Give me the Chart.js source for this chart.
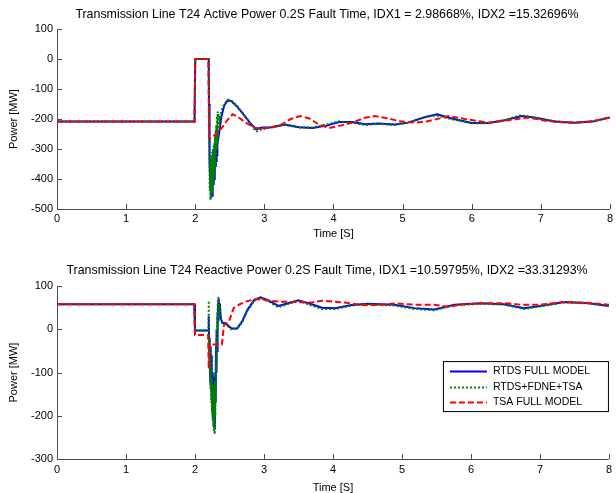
<!DOCTYPE html>
<html>
<head>
<meta charset="utf-8">
<script src="https://cdn.jsdelivr.net/npm/chart.js@4.4.1/dist/chart.umd.min.js"></script>
<style>
  html, body { margin: 0; background: #fff; overflow: hidden; }
  .plot { position: absolute; left: 0; width: 616px; }
  canvas { display: block; }
</style>
</head>
<body>
<div class="plot" style="top:0"><canvas id="activeChart" width="616" height="246"></canvas></div>
<div class="plot" style="top:250px"><canvas id="reactiveChart" width="616" height="245"></canvas></div>
<script>
// axis ticks
const timeTicks = [0, 1, 2, 3, 4, 5, 6, 7, 8];
const activeTicks = [100, 0, -100, -200, -300, -400, -500];
const reactiveTicks = [100, 0, -100, -200, -300];
const seriesNames = ['RTDS FULL MODEL', 'RTDS+FDNE+TSA', 'TSA FULL MODEL'];

// active power, RTDS full model
const activeRtdsT = [0, 1.99, 2.0, 2.195,
  2.2, 2.205, 2.21, 2.215, 2.22, 2.225, 2.23, 2.235, 2.24, 2.245, 2.25, 2.255, 2.26,
  2.265, 2.27, 2.275, 2.28, 2.285, 2.29, 2.295, 2.3, 2.305, 2.31, 2.315, 2.32,
  2.33, 2.35, 2.38, 2.42, 2.47, 2.52, 2.6, 2.7, 2.8, 2.88, 2.97, 3.1, 3.3, 3.5, 3.7, 3.9,
  4.08, 4.27, 4.46, 4.65, 4.89, 5.08, 5.33, 5.5, 5.71, 6.0, 6.24, 6.48, 6.72, 6.9, 7.2, 7.49, 7.77, 8.0];
const activeRtdsV = [-208, -208, 0, 0,
  -150, -300, -340, -400, -330, -440, -350, -460, -340, -455, -330, -440, -320,
  -420, -310, -400, -300, -380, -290, -360, -280, -340, -270, -320, -260,
  -270, -240, -190, -155, -138, -140, -157, -185, -215, -234, -228, -227, -218, -227, -230, -222,
  -210, -210, -217, -215, -218, -212, -193, -184, -198, -213, -213, -204, -190, -195, -208, -212, -207, -195];

// active power, RTDS+FDNE+TSA
const activeFdneT = [0, 1.99, 2.0, 2.195,
  2.2, 2.205, 2.21, 2.215, 2.22, 2.225, 2.23, 2.235, 2.24, 2.245, 2.25, 2.255, 2.26, 2.265, 2.27,
  2.275, 2.28, 2.285, 2.29, 2.295, 2.3, 2.305, 2.31, 2.315, 2.32, 2.325, 2.33, 2.335, 2.34,
  2.35, 2.36, 2.375, 2.39, 2.42, 2.47, 2.52, 2.6, 2.7, 2.8, 2.88, 2.95, 3.1, 3.3, 3.5, 3.7, 3.9,
  4.08, 4.27, 4.46, 4.65, 4.89, 5.08, 5.3, 5.48, 5.7, 6.0, 6.24, 6.48, 6.7, 6.9, 7.2, 7.49, 7.77, 8.0];
const activeFdneV = [-208, -208, 0, 0,
  -200, -330, -440, -340, -470, -330, -465, -320, -450, -310, -440, -300, -420, -290, -400,
  -280, -380, -260, -360, -240, -330, -220, -300, -190, -280, -175, -260, -180, -240,
  -190, -220, -175, -165, -150, -135, -138, -155, -183, -215, -242, -235, -228, -220, -228, -228, -218,
  -208, -212, -220, -216, -220, -212, -195, -188, -200, -214, -214, -203, -188, -194, -207, -213, -207, -194];

// active power, TSA full model
const activeTsaT = [0, 1.99, 2.0, 2.19, 2.2, 2.22, 2.3, 2.39, 2.46, 2.54, 2.63, 2.73, 2.85, 2.95, 3.1, 3.25, 3.38, 3.52, 3.65, 3.78, 3.93, 4.1, 4.27, 4.45, 4.6, 4.8, 4.94, 5.18, 5.35, 5.5, 5.66, 5.9, 6.24, 6.53, 6.82, 7.1, 7.39, 7.68, 8.0];
const activeTsaV = [-208, -208, 0, 0, -262, -265, -250, -228, -205, -184, -195, -212, -228, -232, -228, -218, -200, -190, -198, -217, -230, -222, -212, -196, -190, -198, -207, -212, -208, -200, -190, -200, -212, -204, -195, -207, -212, -210, -195];

// reactive power, RTDS full model
const reactiveRtdsT = [0, 1.99, 2.0, 2.195,
  2.2, 2.205, 2.21, 2.215, 2.22, 2.225, 2.23, 2.235, 2.24, 2.245, 2.25, 2.255, 2.26, 2.265, 2.27, 2.275,
  2.28, 2.285, 2.29, 2.295, 2.3, 2.305, 2.31, 2.315, 2.32, 2.325, 2.33, 2.335, 2.34, 2.345, 2.35,
  2.36, 2.375, 2.4, 2.44, 2.53, 2.61, 2.68, 2.76, 2.86, 2.95, 3.05, 3.21, 3.36, 3.5, 3.69, 3.84, 4.03,
  4.27, 4.5, 4.89, 5.18, 5.47, 5.76, 6.14, 6.48, 6.77, 7.0, 7.35, 7.68, 8.0];
const reactiveRtdsV = [58, 58, -3, -3,
  30, -30, -80, -20, -110, -40, -130, -60, -160, -80, -180, -100, -200, -110, -215, -120,
  -225, -130, -232, -100, -170, -40, -100, 0, -50, 40, -10, 60, 20, 72, 40,
  60, 25, 15, 14, 2, 2, 17, 45, 68, 74, 68, 54, 61, 67, 58, 50, 49,
  56, 59, 57, 49, 46, 57, 60, 58, 49, 54, 63, 61, 54];

// reactive power, RTDS+FDNE+TSA
const reactiveFdneT = [0, 1.99, 2.0, 2.195,
  2.2, 2.205, 2.21, 2.215, 2.22, 2.225, 2.23, 2.235, 2.24, 2.245, 2.25, 2.255, 2.26, 2.265, 2.27,
  2.275, 2.28, 2.285, 2.29, 2.295, 2.3, 2.305, 2.31, 2.315, 2.32, 2.325, 2.33, 2.335, 2.34, 2.345,
  2.355, 2.37, 2.4, 2.44, 2.53, 2.61, 2.68, 2.76, 2.86, 2.95, 3.05, 3.21, 3.36, 3.5, 3.69, 3.84, 4.03,
  4.27, 4.5, 4.89, 5.18, 5.47, 5.76, 6.14, 6.48, 6.77, 7.0, 7.35, 7.68, 8.0];
const reactiveFdneV = [58, 58, -3, -3,
  66, -60, -20, -100, -40, -140, -60, -170, -90, -190, -110, -210, -130, -225, -140,
  -235, -150, -243, -120, -200, -60, -140, -20, -80, 30, -20, 65, 10, 75, 30,
  55, 25, 12, 12, 0, 1, 15, 43, 66, 72, 66, 51, 59, 66, 55, 47, 47,
  55, 58, 55, 47, 44, 56, 59, 57, 47, 53, 62, 60, 54];

// reactive power, TSA full model
const reactiveTsaT = [0, 1.99, 2.0, 2.19, 2.2, 2.21, 2.24, 2.39, 2.42, 2.49, 2.56, 2.65, 2.73, 2.88, 3.0, 3.21, 3.45, 3.69, 3.84, 4.17, 4.41, 4.65, 4.9, 5.18, 5.47, 5.66, 5.9, 6.14, 6.53, 6.72, 7.0, 7.35, 7.68, 8.0];
const reactiveTsaV = [58, 58, -13, -13, -92, -35, -35, -35, 10, 17, 49, 58, 64, 70, 68, 64, 63, 62, 66, 62, 56, 56, 60, 57, 57, 52, 58, 60, 60, 57, 57, 63, 61, 57];

const FONT = "'Liberation Sans', Arial, Helvetica, sans-serif";
const lineStyles = [
  { color: '#0000ff', width: 2, dash: [], order: 3 },
  { color: '#008000', width: 2, dash: [2, 2], order: 2 },
  { color: '#ff0000', width: 2, dash: [6, 3], order: 1 }
];

function pts(t, v) {
  return t.map((x, i) => ({ x: x, y: v[i] }));
}

// title sits over the axes, a bit right of the canvas centre
const titleShift = {
  id: 'titleShift',
  afterLayout(chart) {
    if (chart.titleBlock) chart.titleBlock.left += 38;
  }
};

// left + bottom axis lines with inward ticks
const axesPlugin = {
  id: 'plotAxes',
  afterDatasetsDraw(chart) {
    const { ctx, chartArea: a, scales: { x, y } } = chart;
    ctx.save();
    ctx.strokeStyle = '#4d4d4d';
    ctx.lineWidth = 1;
    ctx.beginPath();
    ctx.moveTo(a.left + 0.5, a.top);
    ctx.lineTo(a.left + 0.5, a.bottom + 0.5);
    ctx.lineTo(a.right, a.bottom + 0.5);
    x.ticks.forEach(t => {
      const px = Math.round(x.getPixelForValue(t.value)) + 0.5;
      ctx.moveTo(px, a.bottom);
      ctx.lineTo(px, a.bottom - 5);
    });
    y.ticks.forEach(t => {
      const py = Math.round(y.getPixelForValue(t.value)) + 0.5;
      ctx.moveTo(a.left, py);
      ctx.lineTo(a.left + 5, py);
    });
    ctx.stroke();
    ctx.restore();
  }
};

// boxed legend inside the plot
const boxLegend = {
  id: 'boxLegend',
  afterDraw(chart) {
    const { ctx, chartArea: a } = chart;
    const w = 166, h = 51;
    const left = a.right - w, top = a.top + 75;
    ctx.save();
    ctx.fillStyle = '#fff';
    ctx.fillRect(left, top, w, h);
    ctx.strokeStyle = '#000';
    ctx.lineWidth = 1;
    ctx.strokeRect(left + 0.5, top + 0.5, w - 1, h - 1);
    ctx.font = '10.5px ' + FONT;
    ctx.textBaseline = 'middle';
    seriesNames.forEach((name, i) => {
      const s = lineStyles[i];
      const cy = Math.round(top + 10 + i * 15.5) + 0.5;
      ctx.strokeStyle = s.color;
      ctx.lineWidth = s.width;
      ctx.setLineDash(s.dash);
      ctx.beginPath();
      ctx.moveTo(left + 7, cy);
      ctx.lineTo(left + 44, cy);
      ctx.stroke();
      ctx.setLineDash([]);
      ctx.fillStyle = '#000';
      ctx.fillText(name, left + 50, cy);
    });
    ctx.restore();
  }
};

function makeChart(id, title, yTicks, series, p, extra) {
  const font = { family: FONT, size: 11 };
  const datasets = series.map((s, i) => ({
    label: seriesNames[i],
    data: pts(s[0], s[1]),
    showLine: true,
    borderColor: lineStyles[i].color,
    borderWidth: lineStyles[i].width,
    borderDash: lineStyles[i].dash,
    order: lineStyles[i].order,
    pointRadius: 0,
    tension: 0,
    fill: false
  }));
  return new Chart(document.getElementById(id), {
    type: 'scatter',
    data: { datasets: datasets },
    options: {
      responsive: false,
      animation: false,
      layout: { padding: { left: 0, right: 0, top: 0, bottom: 0 } },
      plugins: {
        legend: { display: false },
        tooltip: { enabled: false },
        title: {
          display: true,
          text: title,
          color: '#000',
          font: { family: FONT, size: 12.4, weight: 'normal' },
          padding: { top: p.titleTop, bottom: p.titleBottom }
        }
      },
      scales: {
        x: {
          type: 'linear',
          min: 0,
          max: 8,
          grid: { display: false, drawTicks: false },
          border: { display: false },
          ticks: { color: '#000', font: font, padding: p.xTickPad, maxRotation: 0, autoSkip: false },
          afterBuildTicks: s => { s.ticks = timeTicks.map(v => ({ value: v })); },
          afterFit: s => { s.height = p.xHeight; },
          title: { display: true, text: 'Time [S]', color: '#000', font: font, padding: { top: 0, bottom: p.xTitleBottom } }
        },
        y: {
          min: Math.min(...yTicks),
          max: Math.max(...yTicks),
          grid: { display: false, drawTicks: false },
          border: { display: false },
          ticks: { color: '#000', font: font, padding: 4 },
          afterBuildTicks: s => { s.ticks = yTicks.map(v => ({ value: v })); },
          afterFit: s => { s.width = 57; },
          title: { display: true, text: 'Power [MW]', color: '#000', font: font, padding: { top: 7, bottom: 0 } }
        }
      }
    },
    plugins: [titleShift, axesPlugin].concat(extra || [])
  });
}

makeChart('activeChart',
  'Transmission Line T24 Active Power 0.2S Fault Time, IDX1 = 2.98668%, IDX2 =15.32696%',
  activeTicks,
  [[activeRtdsT, activeRtdsV], [activeFdneT, activeFdneV], [activeTsaT, activeTsaV]],
  { titleTop: 7, titleBottom: 7.2, xHeight: 37, xTickPad: 3, xTitleBottom: 5 });

makeChart('reactiveChart',
  'Transmission Line T24 Reactive Power 0.2S Fault Time, IDX1 =10.59795%, IDX2 =33.31293%',
  reactiveTicks,
  [[reactiveRtdsT, reactiveRtdsV], [reactiveFdneT, reactiveFdneV], [reactiveTsaT, reactiveTsaV]],
  { titleTop: 13.6, titleBottom: 7.6, xHeight: 36, xTickPad: 4, xTitleBottom: 0 },
  [boxLegend]);
</script>
</body>
</html>
